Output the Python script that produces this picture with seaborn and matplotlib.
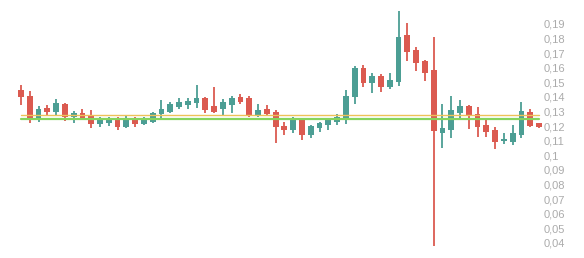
import matplotlib
matplotlib.use("Agg")
import matplotlib.pyplot as plt
import seaborn as sns
import numpy as np
import pandas as pd
from matplotlib.ticker import FixedLocator, FuncFormatter

# Candle data (open, high, low, close)
opens = [0.1448, 0.1407, 0.1249, 0.1325, 0.1297, 0.1352, 0.1263, 0.1290, 0.1270, 0.1215,
         0.1222, 0.1249, 0.1194, 0.1256, 0.1215, 0.1229, 0.1284, 0.1297, 0.1331, 0.1345,
         0.1359, 0.1393, 0.1338, 0.1318, 0.1345, 0.1400, 0.1393, 0.1277, 0.1318, 0.1297,
         0.1201, 0.1174, 0.1242, 0.1140, 0.1188, 0.1208, 0.1229, 0.1249, 0.1400, 0.1599,
         0.1496, 0.1544, 0.1468, 0.1503, 0.1825, 0.1722, 0.1647, 0.1585, 0.1153, 0.1174,
         0.1290, 0.1338, 0.1284, 0.1208, 0.1174, 0.1099, 0.1092, 0.1140, 0.1297, 0.1222]
highs = [0.1482, 0.1441, 0.1338, 0.1345, 0.1386, 0.1359, 0.1304, 0.1318, 0.1311, 0.1263,
         0.1263, 0.1263, 0.1270, 0.1263, 0.1263, 0.1297, 0.1379, 0.1366, 0.1393, 0.1393,
         0.1482, 0.1400, 0.1468, 0.1386, 0.1407, 0.1421, 0.1407, 0.1352, 0.1345, 0.1311,
         0.1229, 0.1263, 0.1249, 0.1208, 0.1229, 0.1256, 0.1284, 0.1448, 0.1612, 0.1619,
         0.1564, 0.1558, 0.1564, 0.1989, 0.1907, 0.1742, 0.1653, 0.1811, 0.1352, 0.1407,
         0.1379, 0.1345, 0.1331, 0.1256, 0.1194, 0.1153, 0.1208, 0.1366, 0.1318, 0.1222]
lows = [0.1345, 0.1222, 0.1229, 0.1277, 0.1277, 0.1236, 0.1222, 0.1249, 0.1188, 0.1194,
        0.1201, 0.1174, 0.1188, 0.1194, 0.1208, 0.1222, 0.1256, 0.1290, 0.1318, 0.1318,
        0.1325, 0.1290, 0.1290, 0.1277, 0.1290, 0.1352, 0.1263, 0.1263, 0.1277, 0.1085,
        0.1140, 0.1153, 0.1105, 0.1119, 0.1160, 0.1174, 0.1208, 0.1215, 0.1352, 0.1468,
        0.1427, 0.1434, 0.1455, 0.1475, 0.1647, 0.1578, 0.1510, 0.0379, 0.1051, 0.1119,
        0.1256, 0.1181, 0.1126, 0.1126, 0.1044, 0.1078, 0.1071, 0.1119, 0.1194, 0.1188]
closes = [0.1400, 0.1249, 0.1318, 0.1297, 0.1359, 0.1263, 0.1290, 0.1256, 0.1215, 0.1249,
          0.1242, 0.1194, 0.1256, 0.1215, 0.1256, 0.1290, 0.1318, 0.1352, 0.1366, 0.1373,
          0.1393, 0.1311, 0.1297, 0.1366, 0.1393, 0.1366, 0.1277, 0.1311, 0.1284, 0.1194,
          0.1174, 0.1242, 0.1140, 0.1201, 0.1222, 0.1242, 0.1263, 0.1407, 0.1599, 0.1496,
          0.1544, 0.1468, 0.1516, 0.1811, 0.1708, 0.1633, 0.1564, 0.1167, 0.1188, 0.1311,
          0.1338, 0.1277, 0.1194, 0.1160, 0.1092, 0.1112, 0.1153, 0.1304, 0.1201, 0.1194]

level_orange = 0.1277
level_green = 0.1252

y_ticks = [0.04, 0.05, 0.06, 0.07, 0.08, 0.09, 0.10, 0.11, 0.12, 0.13,
           0.14, 0.15, 0.16, 0.17, 0.18, 0.19]

UP = "#4c9e94"
DOWN = "#db5a50"

sns.set_theme(style="white")
plt.rcParams['font.family'] = ['Liberation Sans', 'DejaVu Sans']

df = pd.DataFrame({"open": opens, "high": highs, "low": lows, "close": closes})
df["idx"] = np.arange(len(df))
df["up"] = df["close"] >= df["open"]

fig = plt.figure(figsize=(5.84, 2.58), dpi=100)
ax = fig.add_axes([10 / 584, 6 / 258, (542 - 10) / 584, (252 - 5) / 258])

colors = np.where(df["up"], UP, DOWN)
ax.vlines(df["idx"], df["low"], df["high"], colors=colors, linewidth=1.3, zorder=2)
body_bottom = np.minimum(df["open"], df["close"])
body_h = np.abs(df["close"] - df["open"])
body_h = np.maximum(body_h, 0.0004)
ax.bar(df["idx"], body_h, bottom=body_bottom, width=0.66, color=colors,
       linewidth=0, zorder=3)

lines = pd.DataFrame({"x": [0, len(df) - 1] * 2,
                      "y": [level_orange] * 2 + [level_green] * 2,
                      "s": ["o", "o", "g", "g"]})
sns.lineplot(data=lines[lines.s == "g"], x="x", y="y", color="#86d45c",
             linewidth=1.6, ax=ax, zorder=4)
sns.lineplot(data=lines[lines.s == "o"], x="x", y="y", color="#edc258",
             linewidth=1.0, ax=ax, zorder=4)

ax.set_xlim(-1.25, 59.34)
ax.set_ylim(0.0338, 0.2030)
ax.yaxis.tick_right()
ax.yaxis.set_major_locator(FixedLocator(y_ticks))
ax.yaxis.set_major_formatter(FuncFormatter(lambda v, p: f"{round(v, 2):g}".replace('.', ',')))
ax.tick_params(axis='y', length=0, pad=1, labelsize=8, labelcolor="#ababab")
ax.set_xticks([])
ax.set_xlabel("")
ax.set_ylabel("")
for s in ax.spines.values():
    s.set_visible(False)
ax.grid(False)

fig.savefig("out.png", dpi=100)
